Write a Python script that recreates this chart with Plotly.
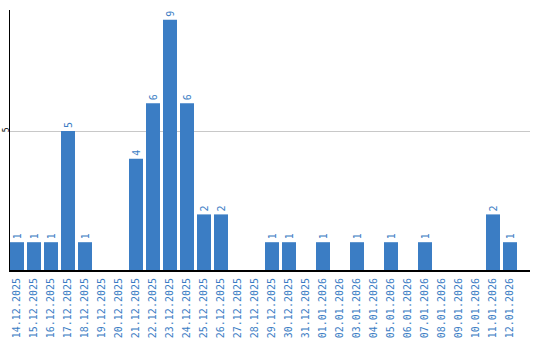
import plotly.graph_objects as go

dates = ["14.12.2025", "15.12.2025", "16.12.2025", "17.12.2025", "18.12.2025",
         "19.12.2025", "20.12.2025", "21.12.2025", "22.12.2025", "23.12.2025",
         "24.12.2025", "25.12.2025", "26.12.2025", "27.12.2025", "28.12.2025",
         "29.12.2025", "30.12.2025", "31.12.2025", "01.01.2026", "02.01.2026",
         "03.01.2026", "04.01.2026", "05.01.2026", "06.01.2026", "07.01.2026",
         "08.01.2026", "09.01.2026", "10.01.2026", "11.01.2026", "12.01.2026"]
counts = [1, 1, 1, 5, 1, 0, 0, 4, 6, 9, 6, 2, 2, 0, 0,
          1, 1, 0, 1, 0, 1, 0, 1, 0, 1, 0, 0, 0, 2, 1]

blue = "#3b7dc4"
labels = [str(v) if v else "" for v in counts]

fig = go.Figure(go.Bar(
    x=dates, y=counts, text=labels, textposition="outside", textangle=-90,
    textfont=dict(color=blue, size=10, family="DejaVu Sans Mono"),
    marker=dict(color=blue, line=dict(width=0)),
    width=14/17, cliponaxis=False,
))

r0 = -7/17
r1 = r0 + 520/17
fig.update_layout(
    width=540, height=340,
    margin=dict(l=10, r=10, t=10, b=70),
    plot_bgcolor="white", paper_bgcolor="white",
    showlegend=False, uniformtext=dict(minsize=1),
    xaxis=dict(type="category", range=[r0, r1], tickangle=-90, automargin=False,
               tickfont=dict(color=blue, size=10, family="DejaVu Sans Mono"),
               showline=True, linecolor="black", linewidth=2,
               showgrid=False, ticks="", ticklen=0, ticklabelstandoff=2),
    yaxis=dict(range=[0, 260/27.8], tickvals=[5], ticktext=["5"], tickangle=-90,
               automargin=False,
               tickfont=dict(color="black", size=8, family="DejaVu Sans Mono"),
               showline=True, linecolor="black", linewidth=1,
               showgrid=True, gridcolor="#c8c8c8", gridwidth=1,
               zeroline=False, ticks="", ticklen=0, ticklabelstandoff=-3),
)

fig.write_html("out.html")
